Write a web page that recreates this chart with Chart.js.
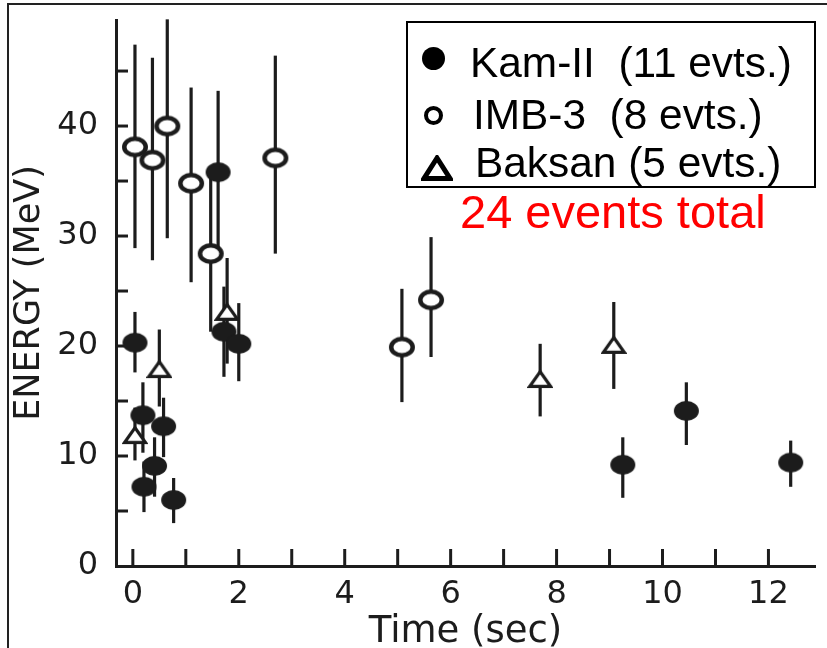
<!DOCTYPE html>
<html>
<head>
<meta charset="utf-8">
<script src="https://cdn.jsdelivr.net/npm/chart.js@4.4.1/dist/chart.umd.min.js"></script>
<style>
  html, body { margin: 0; padding: 0; background: #fff; }
  #wrap { position: relative; width: 827px; height: 648px; overflow: hidden; background: #fff; }
  #chart { position: absolute; left: 0; top: 0; }
  #frame { position: absolute; left: 7px; top: 3px; right: -10px; bottom: -10px;
           border-left: 2px solid #222; border-top: 2px solid #222; pointer-events: none; }
  #legendBox { position: absolute; left: 406px; top: 21px; width: 410px; height: 167px;
               border: 2px solid #000; box-sizing: border-box; background: #fff; }
  .lg { position: absolute; font-family: "Liberation Sans", Arial, sans-serif; font-size: 42.4px;
        line-height: 42.4px; color: #000; white-space: pre; }
  #total { position: absolute; font-family: "Liberation Sans", Arial, sans-serif; font-size: 47px;
           line-height: 47px; color: #ff0000; white-space: pre; left: 460px; top: 188.2px; }
  .mk { position: absolute; box-sizing: border-box; }
</style>
</head>
<body>
<div id="wrap">
  <canvas id="chart" width="827" height="648"></canvas>
  <div id="frame"></div>
  <div id="legendBox"></div>
  <div id="total"></div>
</div>
<script>
// ---------------- data ----------------
const seriesLabels = ['Kam-II  (11 evts.)', 'IMB-3  (8 evts.)', 'Baksan (5 evts.)'];
const totalLabel = '24 events total';
const xTitle = 'Time (sec)';
const yTitle = 'ENERGY (MeV)';

// Kamiokande-II
const kamTime   = [0.04, 0.19, 0.21, 0.41, 0.58, 0.77, 1.61, 1.72, 2.00, 9.25, 10.45, 12.42];
const kamEnergy = [20.3, 13.7, 7.2, 9.1, 12.7, 6.0, 35.8, 21.3, 20.2, 9.2, 14.1, 9.4];
const kamLow    = [17.6, 10.3, 4.9, 6.3, 9.9, 3.9, 28.5, 17.2, 16.8, 6.2, 11.0, 7.2];
const kamHigh   = [23.1, 16.7, 9.5, 11.7, 15.3, 8.0, 43.2, 25.4, 23.9, 11.7, 16.7, 11.4];

// IMB-3
const imbTime   = [0.04, 0.37, 0.65, 1.10, 1.47, 2.69, 5.08, 5.63];
const imbEnergy = [38.1, 36.9, 40.0, 34.8, 28.4, 37.1, 19.9, 24.2];
const imbLow    = [28.9, 27.8, 29.8, 25.8, 21.3, 28.4, 14.9, 19.0];
const imbHigh   = [47.4, 46.2, 49.7, 43.5, 35.5, 46.4, 25.2, 29.9];

// Baksan
const bakTime   = [0.04, 0.50, 1.78, 7.69, 9.08];
const bakEnergy = [11.9, 17.9, 23.1, 17.0, 20.1];
const bakLow    = [9.6, 14.5, 18.4, 13.6, 16.1];
const bakHigh   = [14.4, 21.5, 28.0, 20.2, 24.0];

// axis ranges / ticks
const xMin = -0.318, xMax = 12.879, xStep = 1, xLabelEvery = 2;
const yMin = 0, yMax = 49.64, yStep = 5, yLabelEvery = 10;

// ---------------- styles ----------------
const ink = '#1c1c1c';
const fam = '"DejaVu Sans", Arial, sans-serif';
const tickFont = { family: fam, size: 32, lineHeight: 1 };

function makeEllipse(w, h, filled, lw) {
  const c = document.createElement('canvas');
  c.width = w + 2; c.height = h + 2;
  const g = c.getContext('2d');
  g.beginPath();
  if (filled) {
    g.ellipse(c.width / 2, c.height / 2, w / 2, h / 2, 0, 0, Math.PI * 2);
    g.fillStyle = ink; g.fill();
  } else {
    g.ellipse(c.width / 2, c.height / 2, (w - lw) / 2, (h - lw) / 2, 0, 0, Math.PI * 2);
    g.fillStyle = '#fff'; g.fill();
    g.lineWidth = lw; g.strokeStyle = ink; g.stroke();
  }
  return c;
}
function makeTriangle(w, h, lw) {
  const c = document.createElement('canvas');
  c.width = w + 2; c.height = h + 2;
  const g = c.getContext('2d');
  g.beginPath();
  g.moveTo(c.width / 2, 1 + lw / 2);
  g.lineTo(1 + lw / 2, c.height - 1 - lw / 2);
  g.lineTo(c.width - 1 - lw / 2, c.height - 1 - lw / 2);
  g.closePath();
  g.fillStyle = '#fff'; g.fill();
  g.lineJoin = 'miter'; g.lineWidth = lw; g.strokeStyle = ink; g.stroke();
  return c;
}
const kamImg = makeEllipse(25, 20, true, 0);
const imbImg = makeEllipse(26, 21, false, 4.5);
const bakImg = makeTriangle(24, 18, 3.2);

function pts(t, e) { return t.map((v, i) => ({ x: v, y: e[i] })); }

const datasets = [
  { label: seriesLabels[0], data: pts(kamTime, kamEnergy), errLow: kamLow, errHigh: kamHigh, pointStyle: kamImg },
  { label: seriesLabels[1], data: pts(imbTime, imbEnergy), errLow: imbLow, errHigh: imbHigh, pointStyle: imbImg },
  { label: seriesLabels[2], data: pts(bakTime, bakEnergy), errLow: bakLow, errHigh: bakHigh, pointStyle: bakImg }
].map(d => Object.assign(d, { pointRadius: 11, pointHoverRadius: 11, showLine: false }));

// inward tick marks + error bars, drawn through the chart scales
const decor = {
  id: 'decor',
  beforeDatasetsDraw(chart) {
    const { ctx, chartArea, scales: { x, y } } = chart;
    ctx.save();
    ctx.strokeStyle = ink; ctx.lineWidth = 3; ctx.lineCap = 'butt';
    x.ticks.forEach(t => {
      const px = x.getPixelForValue(t.value);
      ctx.beginPath(); ctx.moveTo(px, chartArea.bottom); ctx.lineTo(px, chartArea.bottom - 17); ctx.stroke();
    });
    y.ticks.forEach(t => {
      if (t.value === 0) return;
      const py = y.getPixelForValue(t.value);
      ctx.beginPath(); ctx.moveTo(chartArea.left, py); ctx.lineTo(chartArea.left + 12, py); ctx.stroke();
    });
    // error bars
    ctx.lineWidth = 3.2;
    chart.data.datasets.forEach(ds => {
      ds.data.forEach((p, i) => {
        const px = x.getPixelForValue(p.x);
        ctx.beginPath();
        ctx.moveTo(px, y.getPixelForValue(ds.errLow[i]));
        ctx.lineTo(px, y.getPixelForValue(ds.errHigh[i]));
        ctx.stroke();
      });
    });
    ctx.restore();
  }
};

new Chart(document.getElementById('chart'), {
  type: 'scatter',
  data: { datasets },
  plugins: [decor],
  options: {
    responsive: false,
    animation: false,
    events: [],
    layout: { padding: { left: 12, right: 5, top: 20, bottom: 0 } },
    plugins: { legend: { display: false }, tooltip: { enabled: false } },
    scales: {
      x: {
        type: 'linear', min: xMin, max: xMax,
        ticks: {
          stepSize: xStep, includeBounds: false, autoSkip: false, maxRotation: 0,
          padding: 13, color: ink, font: tickFont,
          callback: v => (Math.abs(v % xLabelEvery) < 1e-9 ? String(v) : '')
        },
        grid: { display: false, drawTicks: false },
        border: { display: true, color: ink, width: 3 },
        title: { display: true, text: xTitle, color: ink, font: { family: fam, size: 37, lineHeight: 1 }, padding: { top: 0, bottom: -3 } },
        afterFit: s => { s.height = 82; s.paddingLeft = 0; s.paddingRight = 0; s.paddingTop = 0; s.paddingBottom = 0; }
      },
      y: {
        type: 'linear', min: yMin, max: yMax,
        ticks: {
          stepSize: yStep, includeBounds: false, autoSkip: false,
          padding: 18, color: ink, font: tickFont,
          callback: v => (Math.abs(v % yLabelEvery) < 1e-9 ? String(v) : '')
        },
        grid: { display: false, drawTicks: false },
        border: { display: true, color: ink, width: 3 },
        title: { display: true, text: yTitle, color: ink, font: { family: fam, size: 35, lineHeight: 1 }, padding: { top: 0, bottom: 0 } },
        afterFit: s => { s.width = 104; s.paddingLeft = 0; s.paddingRight = 0; s.paddingTop = 0; s.paddingBottom = 0; }
      }
    }
  }
});

// ---------------- legend box (HTML text) ----------------
const wrap = document.getElementById('wrap');
const rows = [
  { left: 470, top: 42.1 },
  { left: 473, top: 94.1 },
  { left: 475, top: 142.1 }
];
seriesLabels.forEach((lab, i) => {
  const s = document.createElement('div');
  s.className = 'lg';
  s.style.left = rows[i].left + 'px';
  s.style.top = rows[i].top + 'px';
  s.textContent = lab;
  wrap.appendChild(s);
});
// legend markers
function addMarker(html, cx, cy, w, h) {
  const m = document.createElement('div');
  m.className = 'mk';
  m.style.left = (cx - w / 2) + 'px'; m.style.top = (cy - h / 2) + 'px';
  m.style.width = w + 'px'; m.style.height = h + 'px';
  m.innerHTML = html;
  wrap.appendChild(m);
  return m;
}
const m1 = addMarker('', 433, 58, 23, 23);
m1.style.background = '#000'; m1.style.borderRadius = '50%';
const m2 = addMarker('', 433, 115, 19, 19);
m2.style.border = '4.5px solid #000'; m2.style.borderRadius = '50%'; m2.style.background = '#fff';
addMarker('<svg width="32" height="26" viewBox="0 0 32 26"><polygon points="16,3 3,23.5 29,23.5" fill="#fff" stroke="#000" stroke-width="5" stroke-linejoin="miter"/></svg>', 437, 168, 32, 26);

document.getElementById('total').textContent = totalLabel;
</script>
</body>
</html>
